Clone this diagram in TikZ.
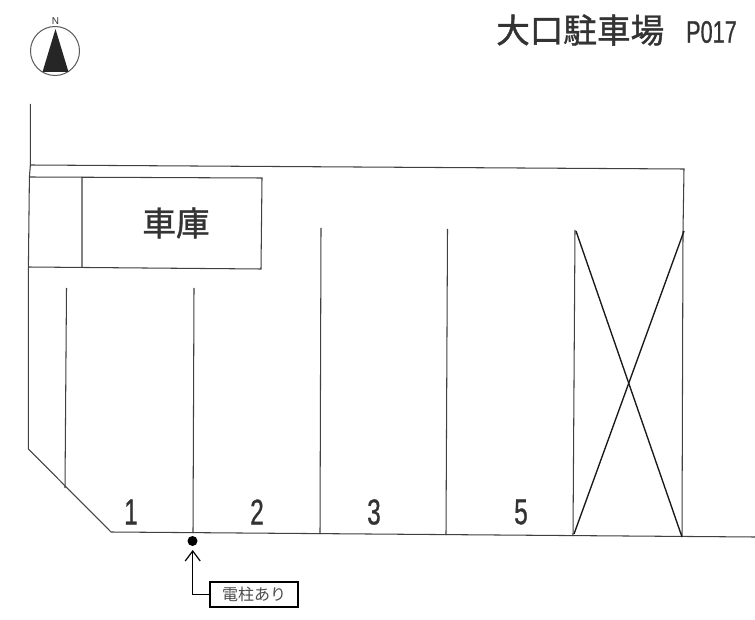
\documentclass[tikz,border=0pt]{standalone}
\usepackage{fontspec}
\setmainfont{Liberation Sans}
\newfontfamily\cjk{Noto Sans CJK JP}
\newfontfamily\cjkheavy[FakeBold=1.2]{Noto Sans CJK JP}
\newfontfamily\numfont[FakeBold=0.9]{Liberation Sans}
\usetikzlibrary{arrows.meta}
\tikzset{
  plan/.style={draw=black!75,line width=1.05pt},
  cross/.style={draw=black!90,line width=1.35pt},
  bigtext/.style={inner sep=0pt,font=\cjkheavy\fontsize{33.6}{36}\selectfont,text=black!80},
  num/.style={inner sep=0pt,font=\numfont\fontsize{36}{38}\selectfont,text=black!80,xscale=0.68},
}
\begin{document}
\begin{tikzpicture}[x=1pt,y=-1pt]
\useasboundingbox[fill=white] (0,0) rectangle (755,620);
% north mark
\draw[black!65,line width=1pt] (55,51) circle (24.5);
\fill[black!85] (55.5,29) -- (68.5,72) -- (42.5,72) -- cycle;
\node[inner sep=0pt,font=\fontsize{10}{10}\selectfont,text=black!80] (north) at (55.5,21.5) {N};
% title
\node[bigtext,anchor=west] (title) at (496,30) {大口駐車場};
\node[inner sep=0pt,anchor=west,text=black!80,font=\numfont\fontsize{31}{32}\selectfont,xscale=0.7] (code) at (686,32) {P017};
% site outline
\draw[plan] (30.4,104) -- (30.4,165) -- (684,169) -- (683,232);
\draw[plan] (30.4,165) -- (29.4,177) -- (28.4,267) -- (28.4,449) -- (111,532) -- (755,537);
% garage
\draw[plan] (29.4,177) -- (262,178) -- (261,269) -- (28.4,267);
\draw[plan] (82,177) -- (82.01,268);
\node[bigtext] (garage) at (176,223) {車庫};
% stall lines
\draw[plan] (66.5,288) -- (65,488);
\draw[plan] (194,288) -- (193,533);
\draw[plan] (321,228) -- (320,534);
\draw[plan] (447.5,229) -- (446,535);
\draw[plan] (575,230) -- (573,536);
\draw[plan] (683,232) -- (682,537);
% X
\draw[cross] (576,231) -- (682,537);
\draw[cross] (684,231) -- (574,534);
% numbers
\node[num] (n1) at (131,512) {1};
\node[num] (n2) at (257,512) {2};
\node[num] (n3) at (374,512) {3};
\node[num] (n5) at (521,512) {5};
% pole
\fill[black] (192.5,541) circle (5);
\coordinate (pole) at (192.7,550);
\node[draw=black,line width=1.2pt,minimum width=88pt,minimum height=25pt,inner sep=0pt,text=black!70,font=\cjk\fontsize{16}{17}\selectfont] (note) at (254,594.5) {電柱あり};
\draw[black,line width=1.2pt,-{Straight Barb[length=10pt,width=15pt]}] (note.west) -- (192.7,594.5) -- (pole);
\end{tikzpicture}
\end{document}
